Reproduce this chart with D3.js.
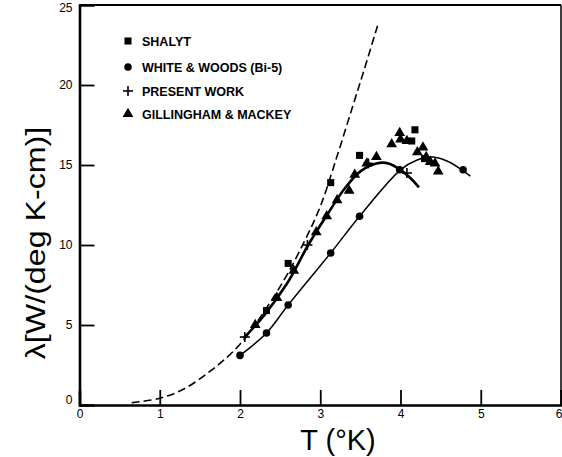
<!DOCTYPE html>
<html><head><meta charset="utf-8">
<script src="https://cdn.jsdelivr.net/npm/d3@7/dist/d3.min.js"></script>
<style>body{margin:0;background:#fff}svg{display:block}</style>
</head><body>
<svg id="c" width="562" height="457"></svg>
<script>
// ---- data ----
const xTicks = [0,1,2,3,4,5,6];
const yTicks = [0,5,10,15,20,25];
const legendLabels = ["SHALYT","WHITE & WOODS (Bi-5)","PRESENT WORK","GILLINGHAM & MACKEY"];
const shalyt = [[2.33,5.9],[2.6,8.85],[3.13,13.9],[3.49,15.6],[4.14,16.5],[4.18,17.2],[4.30,15.4]];
const whiteWoods = [[2.0,3.1],[2.33,4.5],[2.6,6.25],[3.13,9.5],[3.49,11.8],[3.99,14.7],[4.78,14.7]];
const presentWork = [[2.06,4.25],[2.84,10.0],[3.6,15.1],[4.08,14.5]];
const gillingham = [[2.19,5.0],[2.46,6.7],[2.67,8.4],[2.95,10.8],[3.08,11.8],[3.21,12.8],[3.36,13.4],[3.43,14.4],[3.58,15.1],[3.70,15.5],[3.89,16.3],[3.99,17.0],[4.0,16.6],[4.08,16.5],[4.21,15.8],[4.28,16.1],[4.32,15.5],[4.37,15.2],[4.43,15.1],[4.47,14.6]];
const dashedCurve = [[0.65,0.14],[1.0,0.42],[1.3,1.0],[1.65,2.2],[2.0,3.8],[2.5,7.4],[2.8,10.2],[3.0,12.4],[3.2,15.4],[3.4,18.6],[3.55,21.0],[3.72,23.8]];
const thickCurve = [[2.05,4.2],[2.3,5.6],[2.6,7.7],[2.85,10.0],[3.1,12.0],[3.3,13.5],[3.5,14.6],[3.7,15.1],[3.85,15.1],[4.0,14.7],[4.12,14.2],[4.23,13.6]];
const thinCurve = [[2.0,3.1],[2.33,4.5],[2.6,6.25],[3.13,9.5],[3.49,11.8],[4.0,14.7],[4.2,15.3],[4.4,15.5],[4.6,15.2],[4.79,14.6],[4.87,14.3]];

const svg = d3.select("#c");
const x = d3.scaleLinear().domain([0,6]).range([79.5,561]);
const y = d3.scaleLinear().domain([0,25]).range([405,5]);
const font = "'Liberation Sans', Arial, sans-serif";

// frame
svg.append("line").attr("x1",x(0)).attr("x2",x(6)).attr("y1",y(25)).attr("y2",y(25)).attr("stroke","#000").attr("stroke-width",1.8);
svg.append("line").attr("x1",x(6)).attr("x2",x(6)).attr("y1",y(25)).attr("y2",y(0)).attr("stroke","#000").attr("stroke-width",1.5);

// axes
const xa = svg.append("g").attr("transform",`translate(0,${y(0)})`)
  .call(d3.axisBottom(x).tickValues(xTicks).tickSize(-15).tickPadding(4).tickFormat(d3.format("d")));
const ya = svg.append("g").attr("transform",`translate(${x(0)},0)`)
  .call(d3.axisLeft(y).tickValues(yTicks).tickSize(-15).tickPadding(7).tickFormat(d3.format("d")));
[xa,ya].forEach(g=>{
  g.select(".domain").attr("stroke-width",2.6);
  g.selectAll(".tick line").attr("stroke-width",1.8);
  g.selectAll(".tick text").attr("font-family",font).attr("font-size",12).attr("fill","#000");
});
xa.selectAll(".tick").filter(d=>d===0||d===6).select("line").remove();
ya.selectAll(".tick").filter(d=>d===0||d===25).select("line").remove();
xa.selectAll(".tick").filter(d=>d===6).select("text").attr("text-anchor","end").attr("x",1);
ya.selectAll(".tick").filter(d=>d===25).select("text").attr("dy","0.55em");
ya.selectAll(".tick").filter(d=>d===0).select("text").attr("dy","-0.1em");

// axis titles
svg.append("text").attr("x",338).attr("y",450).attr("text-anchor","middle")
  .attr("font-family",font).attr("font-size",29).text("T (°K)");
svg.append("text").attr("transform","translate(45,243) rotate(-90) scale(1.15,1)").attr("text-anchor","middle")
  .attr("font-family",font).attr("font-size",28)
  .text("λ[W/(deg K-cm)]");

// curves
const line = d3.line().x(d=>x(d[0])).y(d=>y(d[1])).curve(d3.curveCatmullRom.alpha(0.5));
svg.append("path").attr("d",line(dashedCurve)).attr("fill","none").attr("stroke","#000").attr("stroke-width",1.6).attr("stroke-dasharray","8,4");
svg.append("path").attr("d",line(thickCurve)).attr("fill","none").attr("stroke","#000").attr("stroke-width",2.6);
svg.append("path").attr("d",line(thinCurve)).attr("fill","none").attr("stroke","#000").attr("stroke-width",1.5);

// markers
const sym = {
  square: d3.symbol().type(d3.symbolSquare).size(50),
  circle: d3.symbol().type(d3.symbolCircle).size(45),
  plus: d3.symbol().type(d3.symbolCross).size(60),
  tri: d3.symbol().type(d3.symbolTriangle).size(50)
};
function plusMark(s){
  s.append("line").attr("x1",-5).attr("x2",5).attr("stroke","#000").attr("stroke-width",1.6);
  s.append("line").attr("y1",-5).attr("y2",5).attr("stroke","#000").attr("stroke-width",1.6);
}
function marks(data,kind){
  const g = svg.append("g");
  if(kind==="plus"){
    g.selectAll("g").data(data).join("g").attr("transform",d=>`translate(${x(d[0])},${y(d[1])})`)
      .each(function(){ plusMark(d3.select(this)); });
  } else {
    g.selectAll("path").data(data).join("path").attr("d",sym[kind]())
      .attr("transform",d=>`translate(${x(d[0])},${y(d[1])})`).attr("fill","#000");
  }
}
marks(shalyt,"square");
marks(whiteWoods,"circle");
marks(presentWork,"plus");
marks(gillingham,"tri");

// legend
const legY = [41,67,91,114];
const kinds = ["square","circle","plus","tri"];
legendLabels.forEach((t,i)=>{
  const g = svg.append("g").attr("transform",`translate(128,${legY[i]})`);
  if(kinds[i]==="plus") plusMark(g);
  else g.append("path").attr("d",sym[kinds[i]]()).attr("fill","#000");
  g.append("text").attr("x",14).attr("y",5).attr("font-family",font).attr("font-size",12.5)
    .attr("font-weight","bold").text(t);
});
</script>
</body></html>
